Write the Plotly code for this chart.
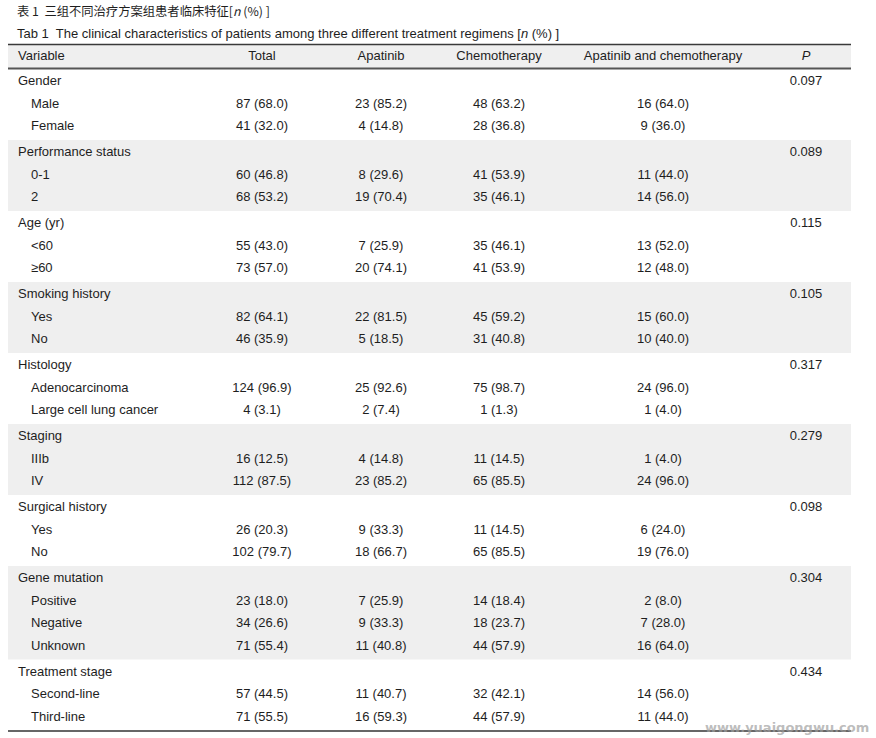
import plotly.graph_objects as go

# ---------------- data ----------------
title_cn = "表 1  三组不同治疗方案组患者临床特征[<i>n</i> (%) ]"
title_en = "Tab 1  The clinical characteristics of patients among three different treatment regimens [<i>n</i> (%) ]"

headers = ["Variable", "Total", "Apatinib", "Chemotherapy", "Apatinib and chemotherapy", "<i>P</i>"]

groups = ["Gender", "Performance status", "Age (yr)", "Smoking history", "Histology",
          "Staging", "Surgical history", "Gene mutation", "Treatment stage"]
p_values = ["0.097", "0.089", "0.115", "0.105", "0.317", "0.279", "0.098", "0.304", "0.434"]
levels = [["Male", "Female"], ["0-1", "2"], ["<60", "≥60"], ["Yes", "No"],
          ["Adenocarcinoma", "Large cell lung cancer"], ["IIIb", "IV"], ["Yes", "No"],
          ["Positive", "Negative", "Unknown"], ["Second-line", "Third-line"]]

total_n = [87, 41, 60, 68, 55, 73, 82, 46, 124, 4, 16, 112, 26, 102, 23, 34, 71, 57, 71]
total_pct = [68.0, 32.0, 46.8, 53.2, 43.0, 57.0, 64.1, 35.9, 96.9, 3.1, 12.5, 87.5, 20.3, 79.7,
             18.0, 26.6, 55.4, 44.5, 55.5]
apatinib_n = [23, 4, 8, 19, 7, 20, 22, 5, 25, 2, 4, 23, 9, 18, 7, 9, 11, 11, 16]
apatinib_pct = [85.2, 14.8, 29.6, 70.4, 25.9, 74.1, 81.5, 18.5, 92.6, 7.4, 14.8, 85.2, 33.3, 66.7,
                25.9, 33.3, 40.8, 40.7, 59.3]
chemo_n = [48, 28, 41, 35, 35, 41, 45, 31, 75, 1, 11, 65, 11, 65, 14, 18, 44, 32, 44]
chemo_pct = [63.2, 36.8, 53.9, 46.1, 46.1, 53.9, 59.2, 40.8, 98.7, 1.3, 14.5, 85.5, 14.5, 85.5,
             18.4, 23.7, 57.9, 42.1, 57.9]
combo_n = [16, 9, 11, 14, 13, 12, 15, 10, 24, 1, 1, 24, 6, 19, 2, 7, 16, 14, 11]
combo_pct = [64.0, 36.0, 44.0, 56.0, 52.0, 48.0, 60.0, 40.0, 96.0, 4.0, 4.0, 96.0, 24.0, 76.0,
             8.0, 28.0, 64.0, 56.0, 44.0]

watermark = "www.yuaigongwu.com"

# ---------------- layout constants ----------------
W, H = 876, 738
FONT = "Liberation Sans, Arial, sans-serif"
CJK = "Noto Sans CJK SC, sans-serif"
TXT = "#1e1e1e"
GRAY = "#efefef"
Y0, STEP, GSTEP = 82, 22.5, 26
X_LEFT, X_RIGHT = 8, 851
X_VAR, X_LEVEL = 18, 31
X_COLS = [262, 381, 499, 663, 806]
HEADER_Y = 57

def fmt(n, p):
    return f"{n} ({p:.1f})"

# compute row positions
group_y, level_y, level_txt = [], [], []
y = Y0
for gi, g in enumerate(groups):
    if gi > 0:
        y += GSTEP
    group_y.append(y)
    for lv in levels[gi]:
        y += STEP
        level_y.append(y)
        level_txt.append(lv)

cols = [
    [fmt(n, p) for n, p in zip(total_n, total_pct)],
    [fmt(n, p) for n, p in zip(apatinib_n, apatinib_pct)],
    [fmt(n, p) for n, p in zip(chemo_n, chemo_pct)],
    [fmt(n, p) for n, p in zip(combo_n, combo_pct)],
]

fig = go.Figure()
font = dict(family=FONT, size=13, color=TXT)

# header
fig.add_trace(go.Scatter(x=[X_VAR], y=[HEADER_Y], text=[headers[0]], mode="text",
                         textposition="middle right", textfont=font, hoverinfo="skip"))
fig.add_trace(go.Scatter(x=X_COLS, y=[HEADER_Y] * 5, text=headers[1:], mode="text",
                         textposition="middle center", textfont=font, hoverinfo="skip"))
# group names
fig.add_trace(go.Scatter(x=[X_VAR] * len(groups), y=group_y, text=groups, mode="text",
                         textposition="middle right", textfont=font, hoverinfo="skip"))
# level names
fig.add_trace(go.Scatter(x=[X_LEVEL] * len(level_txt), y=level_y, text=level_txt, mode="text",
                         textposition="middle right", textfont=font, hoverinfo="skip"))
# values
for xc, col in zip(X_COLS[:4], cols):
    fig.add_trace(go.Scatter(x=[xc] * len(col), y=level_y, text=col, mode="text",
                             textposition="middle center", textfont=font, hoverinfo="skip"))
# P values
fig.add_trace(go.Scatter(x=[X_COLS[4]] * len(p_values), y=group_y, text=p_values, mode="text",
                         textposition="middle center", textfont=font, hoverinfo="skip"))

shapes = []
# header band
shapes.append(dict(type="rect", xref="x", yref="y", x0=X_LEFT, x1=X_RIGHT, y0=44.5, y1=68.5,
                   fillcolor=GRAY, line_width=0, layer="below"))
# group bands (alternate groups)
idx = 0
for gi, g in enumerate(groups):
    n = len(levels[gi])
    first = group_y[gi]
    last = level_y[idx + n - 1]
    idx += n
    if gi % 2 == 1:
        shapes.append(dict(type="rect", xref="x", yref="y", x0=X_LEFT, x1=X_RIGHT,
                           y0=first - 13, y1=last + 13, fillcolor=GRAY, line_width=0,
                           layer="below"))
last_row = level_y[-1]
shapes += [
    dict(type="line", xref="x", yref="y", x0=X_LEFT, x1=X_RIGHT, y0=44.5, y1=44.5,
         line=dict(color="#3a3a3a", width=1.3)),
    dict(type="line", xref="x", yref="y", x0=X_LEFT, x1=X_RIGHT, y0=68.5, y1=68.5,
         line=dict(color="#555555", width=2)),
    dict(type="line", xref="x", yref="y", x0=X_LEFT, x1=X_RIGHT, y0=last_row + 13.5,
         y1=last_row + 13.5, line=dict(color="#666666", width=2)),
]

annotations = [
    dict(x=15, y=11, xref="x", yref="y", text=title_cn, showarrow=False, xanchor="left",
         yanchor="middle", font=dict(family=CJK, size=12.3, color=TXT)),
    dict(x=15, y=33, xref="x", yref="y", text=title_en, showarrow=False, xanchor="left",
         yanchor="middle", font=dict(family=FONT, size=13, color=TXT)),
    dict(x=871, y=727, xref="x", yref="y", text=f"<b>{watermark}</b>", showarrow=False,
         xanchor="right", yanchor="middle",
         font=dict(family="DejaVu Sans, sans-serif", size=13, color="rgba(160,160,160,0.7)")),
]

fig.update_layout(
    width=W, height=H, margin=dict(l=0, r=0, t=0, b=0),
    paper_bgcolor="white", plot_bgcolor="white", showlegend=False,
    xaxis=dict(range=[0, W], visible=False, fixedrange=True),
    yaxis=dict(range=[H, 0], visible=False, fixedrange=True),
    shapes=shapes, annotations=annotations,
)

# remove the default page margin so the figure fills the window exactly
fig.write_html("out.html", config={"displayModeBar": False},
               post_script="document.body.style.margin='0';")
